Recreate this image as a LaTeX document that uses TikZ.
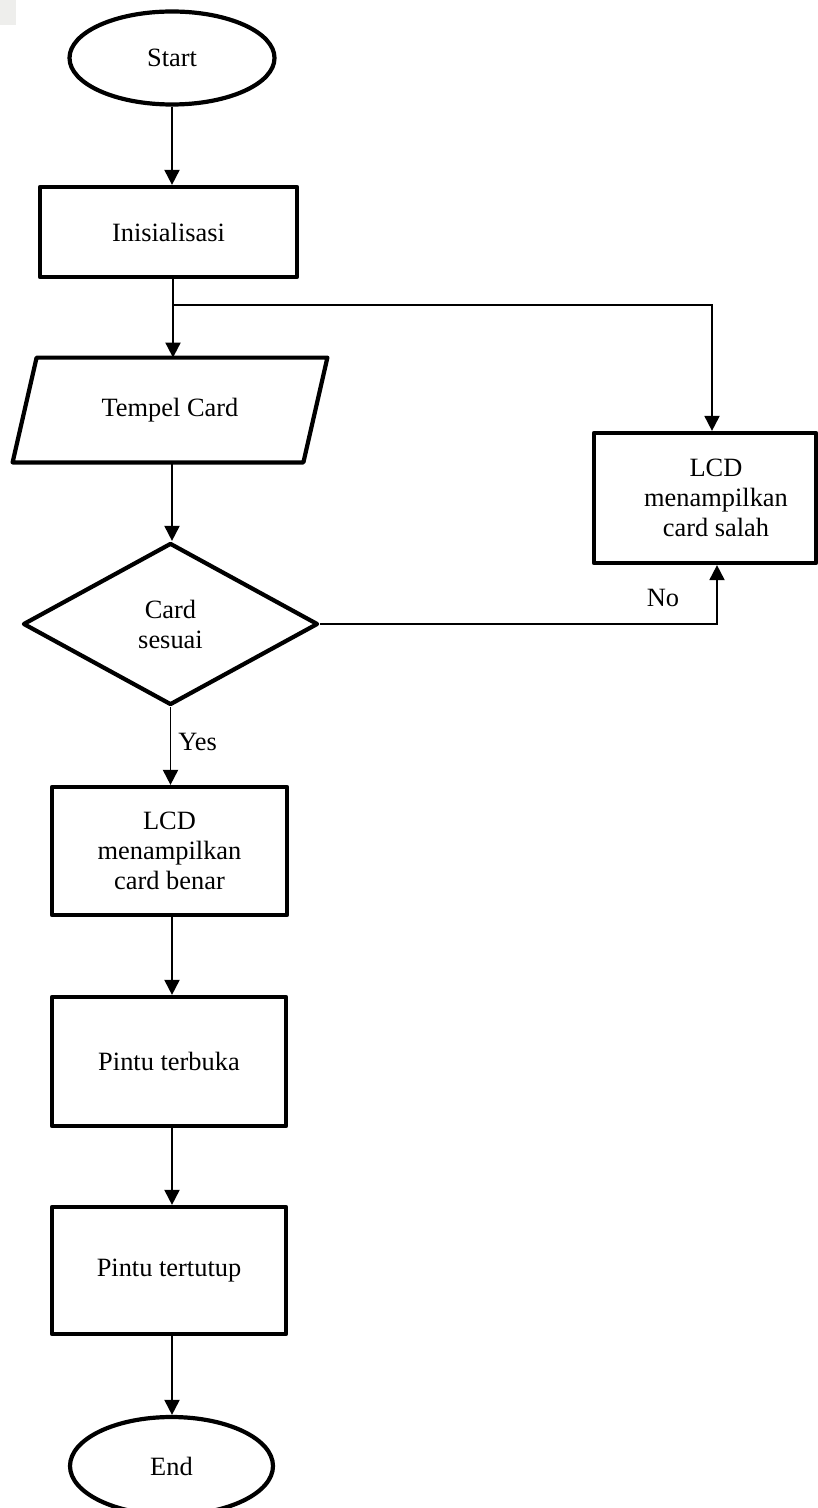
\documentclass[tikz,border=0pt]{standalone}
\usepackage{fontspec}
\setmainfont{Liberation Serif}
\usetikzlibrary{shapes.geometric,arrows.meta}
\definecolor{patch}{RGB}{238,238,236}
\begin{document}
\begin{tikzpicture}[x=0.5pt,y=-0.5pt,
  every node/.style={font=\fontsize{13.2}{15}\selectfont, inner sep=0pt},
  border/.style={draw=black, line width=2.1pt, line join=round},
  termbox/.style={border, ellipse},
  procbox/.style={border, rectangle, align=center},
  iobox/.style={rectangle, align=center},
  decbox/.style={border, diamond, align=center},
  conn/.style={line width=0.95pt, -{Triangle[length=7.5pt,width=7.5pt]}},
  plain/.style={line width=0.8pt},
  lbl/.style={inner sep=0pt}
]
\useasboundingbox (0,0) rectangle (818,1508);
\clip (0,0) rectangle (818,1508);
\fill[patch] (0,0) rectangle (16,25);

\node[termbox, minimum width=102.5pt, minimum height=46.5pt] (start) at (172,58) {Start};
\node[procbox, minimum width=128.5pt, minimum height=45pt] (init) at (168.5,232) {Inisialisasi};
\node[iobox, minimum width=145pt, minimum height=52pt] (tempel) at (170,410) {Tempel Card};
\draw[border] ([xshift=6pt]tempel.north west) -- ([xshift=6pt]tempel.north east)
  -- ([xshift=-6pt]tempel.south east) -- ([xshift=-6pt]tempel.south west) -- cycle;
\node[decbox, minimum width=147.5pt, minimum height=81pt] (dec) at (170.5,624) {Card\\sesuai};
\node[procbox, minimum width=117.5pt, minimum height=64pt] (benar) at (169.5,851) {LCD\\menampilkan\\card benar};
\node[procbox, minimum width=117pt, minimum height=64.5pt] (terbuka) at (169,1061.5) {Pintu terbuka};
\node[procbox, minimum width=117pt, minimum height=63.5pt] (tertutup) at (169,1270.5) {Pintu tertutup};
\node[termbox, minimum width=101.5pt, minimum height=49pt] (end) at (171.5,1466) {End};
\node[procbox, minimum width=111pt, minimum height=65pt] (salah) at (705,498) {\hspace*{11pt}LCD\\\hspace*{11pt}menampilkan\\\hspace*{11pt}card salah};

\coordinate (c) at (172,0);
\coordinate (j) at (173,305);
\coordinate (sa) at (712,0);
\coordinate (sb) at (717,0);

\draw[conn] (start.south -| c) -- (init.north -| c);
\draw[plain] (init.south -| j) -- (j);
\draw[conn] (j) -- (tempel.north -| j);
\draw[conn] (j) -| (salah.north -| sa);
\draw[conn] (tempel.south -| c) -- (dec.north -| c);
\draw[conn] (dec.south) -- (benar.north -| dec.south);
\node[lbl, anchor=west] (yes) at (178,742) {Yes};
\draw[conn] (dec.east) -| (salah.south -| sb);
\node[lbl] (no) at (663,598) {No};
\draw[conn] (benar.south -| c) -- (terbuka.north -| c);
\draw[conn] (terbuka.south -| c) -- (tertutup.north -| c);
\draw[conn] (tertutup.south -| c) -- (end.north -| c);
\end{tikzpicture}
\end{document}
